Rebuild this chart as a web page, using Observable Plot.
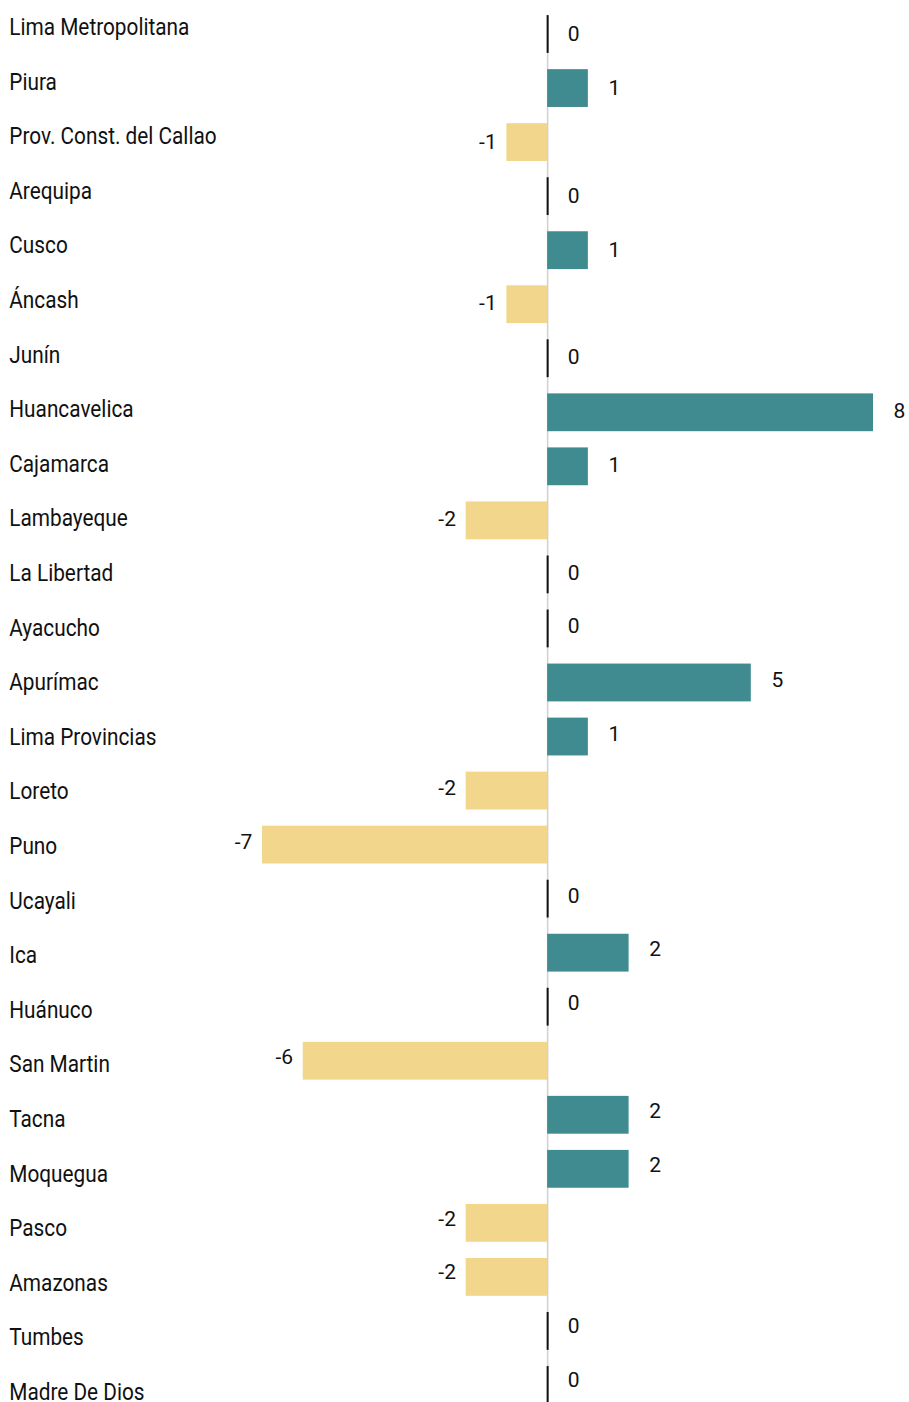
<!DOCTYPE html>
<html>
<head>
<meta charset="utf-8">
<script src="https://cdn.jsdelivr.net/npm/d3@7"></script>
<script src="https://cdn.jsdelivr.net/npm/@observablehq/plot@0.6"></script>
<style>
  html, body { margin: 0; padding: 0; background: #fff; overflow: hidden; }
  #wrap { position: relative; width: 909px; height: 1402px; overflow: hidden; }
  #wrap svg { position: absolute; left: 0; top: 0; }
  #wrap svg.names { transform: scaleX(0.885); transform-origin: 0 0; }
</style>
</head>
<body>
<div id="wrap"></div>
<script>
const regions = ["Lima Metropolitana","Piura","Prov. Const. del Callao","Arequipa","Cusco","Áncash","Junín","Huancavelica","Cajamarca","Lambayeque","La Libertad","Ayacucho","Apurímac","Lima Provincias","Loreto","Puno","Ucayali","Ica","Huánuco","San Martin","Tacna","Moquegua","Pasco","Amazonas","Tumbes","Madre De Dios"];
const values = [0,1,-1,0,1,-1,0,8,1,-2,0,0,5,1,-2,-7,0,2,0,-6,2,2,-2,-2,0,0];

const data = regions.map((r, i) => ({region: r, value: values[i]}));
const TEAL = "#3f8b8f", SAND = "#f2d68c";
const font = "Roboto, 'Noto Sans', sans-serif";
const xScale = {domain: [-7, 8], range: [262, 873], axis: null};
const bandY = (range) => ({type: "band", domain: regions, range, paddingInner: 0.3, paddingOuter: 0.15, round: false, axis: null});
const base = {width: 909, height: 1402, margin: 0, style: {background: "transparent", fontFamily: font}};

const bars = Plot.plot({
  ...base,
  marginTop: 15, marginBottom: 0,
  x: xScale,
  y: bandY([7, 1412]),
  marks: [
    Plot.ruleX([0], {stroke: "#d0d0d0", strokeWidth: 1.5}),
    Plot.barX(data.filter(d => d.value !== 0), {x: "value", y: "region", fill: d => d.value > 0 ? TEAL : SAND}),
    Plot.tickX(data.filter(d => d.value === 0), {x: "value", y: "region", stroke: "#111", strokeWidth: 2})
  ]
});

const valueLabels = Plot.plot({
  ...base,
  x: xScale,
  y: bandY([7.1, 1406.7]),
  marks: [
    Plot.text(data.filter(d => d.value >= 0), {x: "value", y: "region", text: d => String(d.value), dx: 26, textAnchor: "middle", fontSize: 21, fill: "#111"}),
    Plot.text(data.filter(d => d.value < 0), {x: "value", y: "region", text: d => String(d.value), dx: -19, textAnchor: "middle", fontSize: 21, fill: "#111"})
  ]
});

const labels = Plot.plot({
  ...base,
  y: bandY([-0.3, 1419.3]),
  marks: [
    Plot.text(data, {y: "region", text: "region", frameAnchor: "left", dx: 10, textAnchor: "start", fontSize: 23.5, fill: "#111"})
  ]
});
labels.classList.add("names");

const wrap = document.getElementById("wrap");
wrap.appendChild(labels);
wrap.appendChild(bars);
wrap.appendChild(valueLabels);
</script>
</body>
</html>
